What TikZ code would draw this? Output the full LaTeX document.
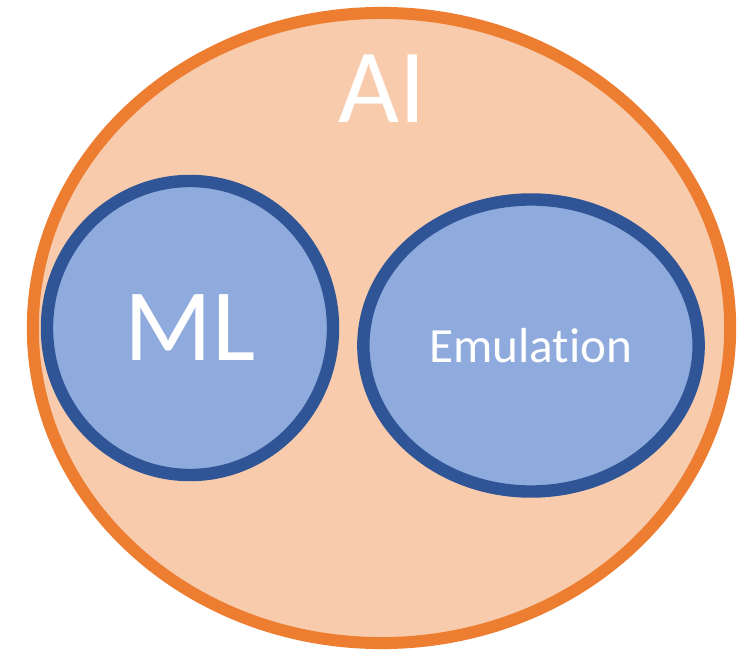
\documentclass[tikz,border=0pt]{standalone}
\usepackage{fontspec}
\setmainfont{Carlito}[Ligatures={NoCommon}]
\usetikzlibrary{shapes.geometric, positioning}
\definecolor{aifill}{HTML}{F8CBAD}
\definecolor{ailine}{HTML}{ED7D31}
\definecolor{subfill}{HTML}{8FAADC}
\definecolor{subline}{HTML}{2F5597}
\tikzset{
    aiset/.style={ellipse, draw=ailine, fill=aifill, line width=0.3cm, inner sep=0pt},
    subset/.style={ellipse, draw=subline, fill=subfill, line width=0.31cm, inner sep=0pt,
                   text=white, align=center},
    lbl/.style={text=white, inner sep=0pt},
}
\begin{document}
\begin{tikzpicture}[x=0.025cm, y=-0.025cm]
    \useasboundingbox (0,0) rectangle (738,650);

    % ── Outer set ──────────────────────────────────────────────────
    \node[aiset, minimum width=17.43cm, minimum height=15.75cm] (ai) at (381.5,328) {};
    \node[lbl, font=\fontsize{75}{75}\selectfont] (ailbl) at (382,89) {AI};

    % ── Subsets ────────────────────────────────────────────────────
    \node[subset, minimum width=7.15cm, minimum height=7.35cm,
          font=\fontsize{73}{73}\selectfont] (ml) at (190,328) {ML};
    \node[subset, minimum width=8.38cm, minimum height=7.3cm,
          font=\fontsize{35}{35}\selectfont] (emu) at (531,345.5) {Emulation};

\end{tikzpicture}
\end{document}
